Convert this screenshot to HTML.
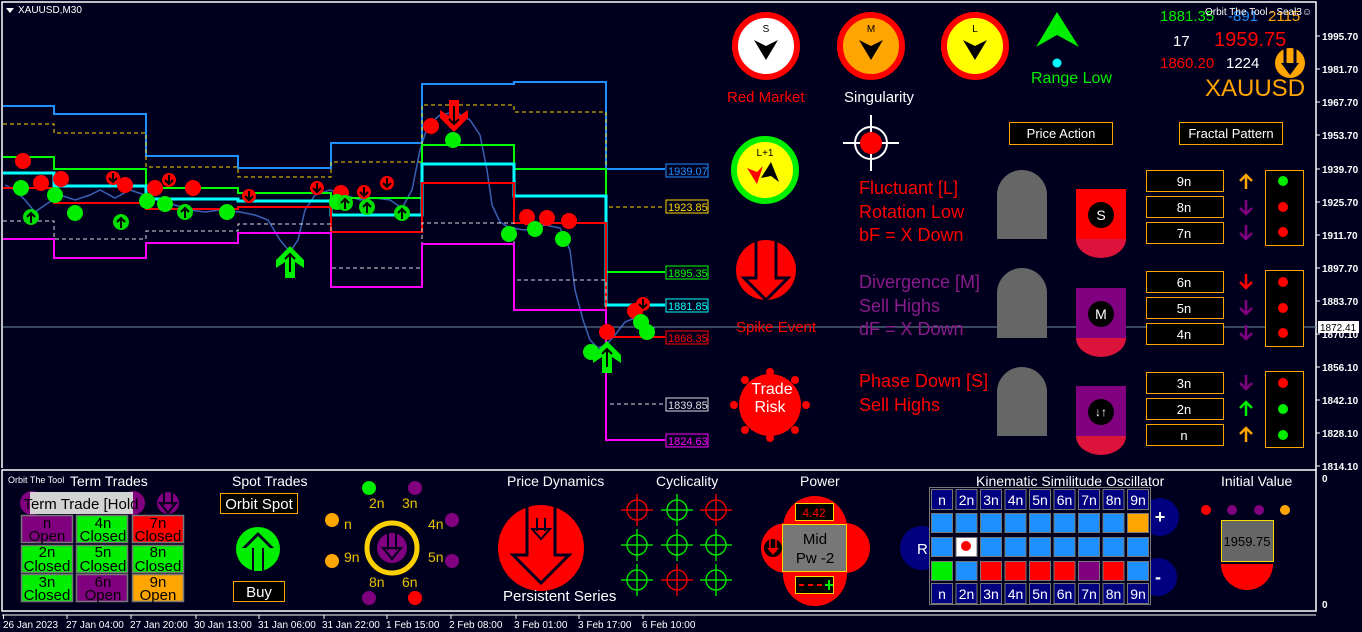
<!DOCTYPE html>
<html><head><meta charset="utf-8"><style>
html,body{margin:0;padding:0;background:#00001e;width:1362px;height:632px;overflow:hidden}
svg{display:block;font-family:"Liberation Sans",sans-serif}
</style></head><body>
<svg width="1362" height="632" viewBox="0 0 1362 632" xmlns="http://www.w3.org/2000/svg">
<rect width="1362" height="632" fill="#00001e"/>
<!-- chart border -->
<polyline points="2,468 2,2 1316,2 1316,470" fill="none" stroke="#fff" stroke-width="1.5"/>
<polygon points="6,8 14,8 10,13" fill="#fff"/>
<text x="18" y="13" font-size="10" fill="#fff">XAUUSD,M30</text>
<!-- price line -->
<line x1="3" y1="327" x2="1316" y2="327" fill="none" stroke="#6f8fa0" stroke-width="1"/>
<!-- candles approximation -->
<polyline points="5,185 15,190 25,200 35,212 45,205 60,195 75,200 90,195 100,190 115,198 130,190 145,195 160,200 175,205 190,210 205,212 220,210 240,212 255,215 268,220 280,240 290,252 298,240 305,210 315,195 330,190 345,195 360,200 375,198 390,200 402,208 412,190 420,150 428,125 440,115 455,112 470,120 480,135 487,170 492,205 500,222 510,228 525,230 545,225 560,228 570,250 575,290 583,320 590,340 598,348 606,345 615,335 625,322 635,318 645,325 655,328" fill="none" stroke="#4a78d8" stroke-width="1.5" opacity="0.8"/>
<!-- step lines -->
<polyline points="3,106 54,106 54,114 146,114 146,156 238,156 238,168 331,168 331,143 422,143 422,84 514,84 514,82 606,82 606,169 665,169" fill="none" stroke="#1e90ff" stroke-width="2"/>
<polyline points="3,124 54,124 54,133 146,133 146,167 238,167 238,177 331,177 331,162 422,162 422,105 514,105 514,112 606,112 606,207 665,207" fill="none" stroke="#ffd700" stroke-width="1" stroke-dasharray="4,3"/>
<polyline points="3,157 54,157 54,169 146,169 146,188 238,188 238,193 331,193 331,198 422,198 422,145 514,145 514,169 606,169 606,272 665,272" fill="none" stroke="#00ff00" stroke-width="2"/>
<polyline points="3,173 54,173 54,186 146,186 146,199 238,199 238,201 331,201 331,215 422,215 422,164 514,164 514,196 606,196 606,305 665,305" fill="none" stroke="#00ffff" stroke-width="3"/>
<polyline points="3,188 54,188 54,203 146,203 146,209 238,209 238,207 331,207 331,232 422,232 422,183 514,183 514,223 606,223 606,337 665,337" fill="none" stroke="#ff0000" stroke-width="2"/>
<polyline points="3,221 54,221 54,239 146,239 146,231 238,231 238,224 331,224 331,268 422,268 422,223 514,223 514,280 606,280 606,404 665,404" fill="none" stroke="#ddd" stroke-width="1" stroke-dasharray="4,3"/>
<polyline points="3,239 54,239 54,258 146,258 146,243 238,243 238,233 331,233 331,287 422,287 422,244 514,244 514,310 606,310 606,440 665,440" fill="none" stroke="#ff00ff" stroke-width="2"/>
<!-- level labels -->
<g font-size="11">
<rect x="666" y="164" width="42" height="13" fill="#00001e" stroke="#1e90ff"/><text x="668" y="175" fill="#1e90ff">1939.07</text>
<rect x="666" y="200" width="42" height="13" fill="#00001e" stroke="#ffd700"/><text x="668" y="211" fill="#ffd700">1923.85</text>
<rect x="666" y="266" width="42" height="13" fill="#00001e" stroke="#00ff00"/><text x="668" y="277" fill="#00ff00">1895.35</text>
<rect x="666" y="299" width="42" height="13" fill="#00001e" stroke="#00ffff"/><text x="668" y="310" fill="#00ffff">1881.85</text>
<rect x="666" y="331" width="42" height="13" fill="#00001e" stroke="#ff0000"/><text x="668" y="342" fill="#ff0000">1868.35</text>
<rect x="666" y="398" width="42" height="13" fill="#00001e" stroke="#ddd"/><text x="668" y="409" fill="#ddd">1839.85</text>
<rect x="666" y="434" width="42" height="13" fill="#00001e" stroke="#ff00ff"/><text x="668" y="445" fill="#ff00ff">1824.63</text>
</g>
<!-- red circles -->
<g fill="#ff0000">
<circle cx="23" cy="161" r="8"/><circle cx="41" cy="183" r="8"/><circle cx="61" cy="179" r="8"/><circle cx="125" cy="185" r="8"/><circle cx="155" cy="188" r="8"/><circle cx="193" cy="188" r="8"/><circle cx="341" cy="193" r="8"/><circle cx="431" cy="126" r="8"/><circle cx="527" cy="217" r="8"/><circle cx="547" cy="218" r="8"/><circle cx="569" cy="221" r="8"/><circle cx="607" cy="332" r="8"/><circle cx="635" cy="311" r="8"/>
</g>
<!-- green circles -->
<g fill="#00ee00">
<circle cx="21" cy="188" r="8"/><circle cx="55" cy="195" r="8"/><circle cx="75" cy="213" r="8"/><circle cx="147" cy="201" r="8"/><circle cx="165" cy="204" r="8"/><circle cx="227" cy="212" r="8"/><circle cx="337" cy="202" r="8"/><circle cx="453" cy="140" r="8"/><circle cx="509" cy="234" r="8"/><circle cx="535" cy="229" r="8"/><circle cx="563" cy="239" r="8"/><circle cx="591" cy="352" r="8"/><circle cx="641" cy="322" r="8"/><circle cx="647" cy="332" r="8"/>
</g>
<!-- small red down-arrow circles -->
<g>
<g transform="translate(113,178)"><circle r="7" fill="#ff0000"/><path d="M0,-5 V4 M-4,0 L0,4 L4,0" stroke="#000" stroke-width="2" fill="none"/></g>
<g transform="translate(169,180)"><circle r="7" fill="#ff0000"/><path d="M0,-5 V4 M-4,0 L0,4 L4,0" stroke="#000" stroke-width="2" fill="none"/></g>
<g transform="translate(249,196)"><circle r="7" fill="#ff0000"/><path d="M0,-5 V4 M-4,0 L0,4 L4,0" stroke="#000" stroke-width="2" fill="none"/></g>
<g transform="translate(317,188)"><circle r="7" fill="#ff0000"/><path d="M0,-5 V4 M-4,0 L0,4 L4,0" stroke="#000" stroke-width="2" fill="none"/></g>
<g transform="translate(364,192)"><circle r="7" fill="#ff0000"/><path d="M0,-5 V4 M-4,0 L0,4 L4,0" stroke="#000" stroke-width="2" fill="none"/></g>
<g transform="translate(387,183)"><circle r="7" fill="#ff0000"/><path d="M0,-5 V4 M-4,0 L0,4 L4,0" stroke="#000" stroke-width="2" fill="none"/></g>
<g transform="translate(643,304)"><circle r="7" fill="#ff0000"/><path d="M0,-5 V4 M-4,0 L0,4 L4,0" stroke="#000" stroke-width="2" fill="none"/></g>
</g>
<!-- small green up-arrow circles -->
<g>
<g transform="translate(31,217)"><circle r="8" fill="#00dd00"/><path d="M0,6 V-4 M-4,0 L0,-4 L4,0" stroke="#000" stroke-width="2" fill="none"/></g>
<g transform="translate(121,222)"><circle r="8" fill="#00dd00"/><path d="M0,6 V-4 M-4,0 L0,-4 L4,0" stroke="#000" stroke-width="2" fill="none"/></g>
<g transform="translate(185,212)"><circle r="8" fill="#00dd00"/><path d="M0,6 V-4 M-4,0 L0,-4 L4,0" stroke="#000" stroke-width="2" fill="none"/></g>
<g transform="translate(345,203)"><circle r="8" fill="#00dd00"/><path d="M0,6 V-4 M-4,0 L0,-4 L4,0" stroke="#000" stroke-width="2" fill="none"/></g>
<g transform="translate(367,207)"><circle r="8" fill="#00dd00"/><path d="M0,6 V-4 M-4,0 L0,-4 L4,0" stroke="#000" stroke-width="2" fill="none"/></g>
<g transform="translate(402,213)"><circle r="8" fill="#00dd00"/><path d="M0,6 V-4 M-4,0 L0,-4 L4,0" stroke="#000" stroke-width="2" fill="none"/></g>
</g>
<!-- big green arrows -->
<g transform="translate(290,262)"><polygon points="0,-16 14,-2 14,6 5,0 5,16 -5,16 -5,0 -14,6 -14,-2" fill="#00ee00"/><path d="M0,10 V-8 M-5,-3 L0,-8 L5,-3" stroke="#000" stroke-width="2" fill="none"/></g>
<g transform="translate(607,357)"><polygon points="0,-16 14,-2 14,6 5,0 5,16 -5,16 -5,0 -14,6 -14,-2" fill="#00ee00"/><path d="M0,10 V-8 M-5,-3 L0,-8 L5,-3" stroke="#000" stroke-width="2" fill="none"/></g>
<g transform="translate(454,116)"><polygon points="0,16 14,2 14,-6 5,0 5,-16 -5,-16 -5,0 -14,-6 -14,2" fill="#ff0000"/><path d="M0,-10 V8 M-5,3 L0,8 L5,3" stroke="#000" stroke-width="2" fill="none"/></g>

<!-- right axis -->
<g font-size="10" fill="#fff" font-weight="bold">
<g stroke="#fff"><line x1="1316" y1="36" x2="1320" y2="36"/><line x1="1316" y1="69" x2="1320" y2="69"/><line x1="1316" y1="102" x2="1320" y2="102"/><line x1="1316" y1="135" x2="1320" y2="135"/><line x1="1316" y1="169" x2="1320" y2="169"/><line x1="1316" y1="202" x2="1320" y2="202"/><line x1="1316" y1="235" x2="1320" y2="235"/><line x1="1316" y1="268" x2="1320" y2="268"/><line x1="1316" y1="301" x2="1320" y2="301"/><line x1="1316" y1="334" x2="1320" y2="334"/><line x1="1316" y1="367" x2="1320" y2="367"/><line x1="1316" y1="400" x2="1320" y2="400"/><line x1="1316" y1="433" x2="1320" y2="433"/><line x1="1316" y1="466" x2="1320" y2="466"/></g>
<text x="1322" y="40">1995.70</text><text x="1322" y="73">1981.70</text><text x="1322" y="106">1967.70</text><text x="1322" y="139">1953.70</text><text x="1322" y="173">1939.70</text><text x="1322" y="206">1925.70</text><text x="1322" y="239">1911.70</text><text x="1322" y="272">1897.70</text><text x="1322" y="305">1883.70</text><text x="1322" y="338">1870.10</text><text x="1322" y="371">1856.10</text><text x="1322" y="404">1842.10</text><text x="1322" y="437">1828.10</text><text x="1322" y="470">1814.10</text>
</g>
<rect x="1318" y="321" width="41" height="12" fill="#fff"/><text x="1320" y="331" font-size="10" fill="#000">1872.41</text>

<!-- S M L circles -->
<g transform="translate(766,46)"><circle r="31" fill="#fff" stroke="#ff0000" stroke-width="6"/><text y="-14" font-size="10" text-anchor="middle" fill="#000">S</text><polygon points="-12,-6 0,0 12,-6 0,14" fill="#000"/></g>
<g transform="translate(871,46)"><circle r="31" fill="#ffa500" stroke="#ff0000" stroke-width="6"/><text y="-14" font-size="10" text-anchor="middle" fill="#000">M</text><polygon points="-12,-6 0,0 12,-6 0,14" fill="#000"/></g>
<g transform="translate(975,46)"><circle r="31" fill="#ffff00" stroke="#ff0000" stroke-width="6"/><text y="-14" font-size="10" text-anchor="middle" fill="#000">L</text><polygon points="-12,-6 0,0 12,-6 0,14" fill="#000"/></g>
<text x="727" y="102" font-size="15" fill="#ff0000">Red Market</text>
<text x="844" y="102" font-size="15" fill="#fff">Singularity</text>
<polygon points="1057,12 1079,47 1057,35 1036,47" fill="#00ee00"/>
<circle cx="1057" cy="63" r="4.5" fill="#00ffff"/>
<text x="1031" y="83" font-size="16" fill="#00ee00">Range Low</text>
<!-- top right info -->
<text x="1160" y="21" font-size="15" fill="#00ee00">1881.35</text>
<text x="1228" y="21" font-size="15" fill="#1e90ff">-891</text>
<text x="1268" y="21" font-size="15" fill="#ffa500">2115</text>
<text x="1205" y="15" font-size="10" fill="#fff">Orbit The Tool - Seal3☺</text>
<text x="1173" y="46" font-size="15" fill="#fff">17</text>
<text x="1214" y="46" font-size="20" fill="#ff0000">1959.75</text>
<text x="1160" y="68" font-size="15" fill="#ff0000">1860.20</text>
<text x="1226" y="68" font-size="15" fill="#fff">1224</text>
<g transform="translate(1290,63)"><circle r="15" fill="#ffa500"/><path d="M-5,-15 V2 M5,-15 V2" stroke="#00001e" stroke-width="3"/><polygon points="-9,0 9,0 0,12" fill="#00001e"/></g>
<text x="1205" y="96" font-size="24" fill="#ffa500">XAUUSD</text>

<!-- L+1 -->
<g transform="translate(765,170)"><circle r="31" fill="#ffff00" stroke="#00ee00" stroke-width="6"/><text y="-14" font-size="10" text-anchor="middle" fill="#000">L+1</text><polygon points="-18,-2 -8,2 -2,-4 -8,14" fill="#ff0000"/><polygon points="-4,8 6,-8 14,12 6,6" fill="#000"/></g>
<!-- crosshair -->
<g transform="translate(871,143)" stroke="#fff" stroke-width="2" fill="none"><circle r="16"/><line x1="-28" y1="0" x2="28" y2="0"/><line x1="0" y1="-28" x2="0" y2="28"/><circle r="11" fill="#ff0000" stroke="none"/></g>
<!-- spike -->
<g transform="translate(766,270)"><circle r="30" fill="#ff0000"/><polyline points="-10,-30 -10,8 -22,8 0,30 22,8 10,8 10,-30" fill="none" stroke="#00001e" stroke-width="3"/></g>
<text x="736" y="332" font-size="15" fill="#ff0000">Spike Event</text>
<!-- trade risk -->
<g transform="translate(770,405)" fill="#ff0000"><circle r="31"/><circle cx="0" cy="-33" r="4"/><circle cx="0" cy="33" r="4"/><circle cx="-36" cy="0" r="4"/><circle cx="36" cy="0" r="4"/><circle cx="-25" cy="-25" r="4"/><circle cx="25" cy="-25" r="4"/><circle cx="-25" cy="25" r="4"/><circle cx="25" cy="25" r="4"/></g>
<text x="772" y="394" font-size="16" fill="#fff" text-anchor="middle">Trade</text>
<text x="770" y="412" font-size="16" fill="#fff" text-anchor="middle">Risk</text>
<!-- text blocks -->
<g font-size="18">
<text x="859" y="194" fill="#ff0000">Fluctuant [L]</text>
<text x="859" y="218" fill="#ff0000">Rotation Low</text>
<text x="859" y="241" fill="#ff0000">bF = X Down</text>
<text x="859" y="288" fill="#8b1a8b">Divergence [M]</text>
<text x="859" y="312" fill="#8b1a8b">Sell Highs</text>
<text x="859" y="335" fill="#8b1a8b">dF = X Down</text>
<text x="859" y="387" fill="#ff0000">Phase Down [S]</text>
<text x="859" y="411" fill="#ff0000">Sell Highs</text>
</g>
<!-- buttons -->
<rect x="1009.5" y="122.5" width="103" height="22" fill="#000" stroke="#ffa500"/><text x="1061" y="138" font-size="13" fill="#fff" text-anchor="middle">Price Action</text>
<rect x="1179.5" y="122.5" width="103" height="22" fill="#000" stroke="#ffa500"/><text x="1231" y="138" font-size="13" fill="#fff" text-anchor="middle">Fractal Pattern</text>
<!-- tombstones -->
<g fill="#666">
<path d="M997,239 V195 A25,25 0 0 1 1047,195 V239 Z"/>
<path d="M997,338 V293 A25,25 0 0 1 1047,293 V338 Z"/>
<path d="M997,436 V392 A25,25 0 0 1 1047,392 V436 Z"/>
</g>
<!-- badges -->
<g>
<rect x="1076" y="189" width="50" height="50" fill="#ff0000"/><path d="M1076,239 A25,19 0 0 0 1126,239 Z" fill="#dc143c"/><circle cx="1101" cy="215" r="13" fill="#000"/><text x="1101" y="220" font-size="14" fill="#fff" text-anchor="middle">S</text>
<rect x="1076" y="288" width="50" height="50" fill="#800080"/><path d="M1076,338 A25,19 0 0 0 1126,338 Z" fill="#dc143c"/><circle cx="1101" cy="314" r="13" fill="#000"/><text x="1101" y="319" font-size="14" fill="#fff" text-anchor="middle">M</text>
<rect x="1076" y="386" width="50" height="50" fill="#800080"/><path d="M1076,436 A25,19 0 0 0 1126,436 Z" fill="#dc143c"/><circle cx="1101" cy="412" r="13" fill="#000"/><text x="1101" y="416" font-size="12" fill="#fff" text-anchor="middle">↓↑</text>
</g>
<!-- n boxes -->
<g font-size="13" fill="#fff" text-anchor="middle">
<g fill="#000" stroke="#ffa500">
<rect x="1146.5" y="170.5" width="77" height="21"/><rect x="1146.5" y="196.5" width="77" height="21"/><rect x="1146.5" y="222.5" width="77" height="21"/>
<rect x="1146.5" y="271.5" width="77" height="21"/><rect x="1146.5" y="297.5" width="77" height="21"/><rect x="1146.5" y="323.5" width="77" height="21"/>
<rect x="1146.5" y="372.5" width="77" height="21"/><rect x="1146.5" y="398.5" width="77" height="21"/><rect x="1146.5" y="424.5" width="77" height="21"/>
</g>
<text x="1184" y="186">9n</text><text x="1184" y="212">8n</text><text x="1184" y="238">7n</text>
<text x="1184" y="287">6n</text><text x="1184" y="313">5n</text><text x="1184" y="339">4n</text>
<text x="1184" y="388">3n</text><text x="1184" y="414">2n</text><text x="1184" y="440">n</text>
</g>
<!-- small arrows -->
<g stroke-width="2.5" fill="none">
<path d="M1246,189 V175 M1240,181 L1246,175 L1252,181" stroke="#ffa500"/>
<path d="M1246,200 V214 M1240,208 L1246,214 L1252,208" stroke="#800080"/>
<path d="M1246,225 V239 M1240,233 L1246,239 L1252,233" stroke="#800080"/>
<path d="M1246,274 V288 M1240,282 L1246,288 L1252,282" stroke="#ff0000"/>
<path d="M1246,300 V314 M1240,308 L1246,314 L1252,308" stroke="#800080"/>
<path d="M1246,325 V339 M1240,333 L1246,339 L1252,333" stroke="#800080"/>
<path d="M1246,375 V389 M1240,383 L1246,389 L1252,383" stroke="#800080"/>
<path d="M1246,416 V402 M1240,408 L1246,402 L1252,408" stroke="#00ee00"/>
<path d="M1246,442 V428 M1240,434 L1246,428 L1252,434" stroke="#ffa500"/>
</g>
<!-- light boxes -->
<g fill="#000" stroke="#ffa500"><rect x="1265.5" y="170.5" width="38" height="75"/><rect x="1265.5" y="270.5" width="38" height="76"/><rect x="1265.5" y="371.5" width="38" height="76"/></g>
<g><circle cx="1283" cy="181" r="5" fill="#00ee00"/><circle cx="1283" cy="207" r="5" fill="#ff0000"/><circle cx="1283" cy="232" r="5" fill="#ff0000"/>
<circle cx="1283" cy="282" r="5" fill="#ff0000"/><circle cx="1283" cy="308" r="5" fill="#ff0000"/><circle cx="1283" cy="333" r="5" fill="#ff0000"/>
<circle cx="1283" cy="383" r="5" fill="#ff0000"/><circle cx="1283" cy="409" r="5" fill="#00ee00"/><circle cx="1283" cy="435" r="5" fill="#00ee00"/></g>

<!-- bottom panel -->
<rect x="2" y="470" width="1314" height="141" fill="#00001e" stroke="#fff" stroke-width="1.5"/>
<line x1="2" y1="615" x2="1316" y2="615" stroke="#fff"/>
<text x="1322" y="482" font-size="10" fill="#fff" font-weight="bold">0</text>
<text x="1322" y="608" font-size="10" fill="#fff" font-weight="bold">0</text>
<g stroke="#fff"><line x1="3.5" y1="615" x2="3.5" y2="619"/><line x1="67" y1="615" x2="67" y2="619"/><line x1="131" y1="615" x2="131" y2="619"/><line x1="196" y1="615" x2="196" y2="619"/><line x1="259" y1="615" x2="259" y2="619"/><line x1="324" y1="615" x2="324" y2="619"/><line x1="387" y1="615" x2="387" y2="619"/><line x1="451" y1="615" x2="451" y2="619"/><line x1="516" y1="615" x2="516" y2="619"/><line x1="579" y1="615" x2="579" y2="619"/><line x1="643" y1="615" x2="643" y2="619"/></g>
<g font-size="10" fill="#fff">
<text x="3" y="628">26 Jan 2023</text><text x="66" y="628">27 Jan 04:00</text><text x="130" y="628">27 Jan 20:00</text><text x="194" y="628">30 Jan 13:00</text><text x="258" y="628">31 Jan 06:00</text><text x="322" y="628">31 Jan 22:00</text><text x="386" y="628">1 Feb 15:00</text><text x="449" y="628">2 Feb 08:00</text><text x="514" y="628">3 Feb 01:00</text><text x="578" y="628">3 Feb 17:00</text><text x="642" y="628">6 Feb 10:00</text>
</g>
<!-- term trades -->
<text x="8" y="483" font-size="9" fill="#fff">Orbit The Tool</text>
<text x="70" y="486" font-size="14" fill="#fff">Term Trades</text>
<circle cx="32" cy="503" r="12" fill="#800080"/><circle cx="133" cy="503" r="12" fill="#800080"/>
<rect x="30" y="492" width="103" height="22" fill="#d3d3d3"/>
<text x="81" y="509" font-size="15" fill="#000" text-anchor="middle">Term Trade [Hold</text>
<g transform="translate(168,503)"><circle r="11" fill="#800080"/><path d="M-4,-11 V2 M4,-11 V2" stroke="#00001e" stroke-width="2"/><polygon points="-8,0 8,0 0,10" fill="none" stroke="#00001e" stroke-width="2"/></g>
<g stroke="#777" stroke-width="1.5">
<rect x="21.5" y="515.5" width="51" height="27" fill="#800080"/><rect x="76.5" y="515.5" width="51" height="27" fill="#00ee00"/><rect x="132.5" y="515.5" width="51" height="27" fill="#ff0000"/>
<rect x="21.5" y="545.5" width="51" height="27" fill="#00ee00"/><rect x="76.5" y="545.5" width="51" height="27" fill="#00ee00"/><rect x="132.5" y="545.5" width="51" height="27" fill="#00ee00"/>
<rect x="21.5" y="574.5" width="51" height="27" fill="#00ee00"/><rect x="76.5" y="574.5" width="51" height="27" fill="#800080"/><rect x="132.5" y="574.5" width="51" height="27" fill="#ffa500"/>
</g>
<g font-size="15" fill="#000" text-anchor="middle">
<text x="47" y="528">n</text><text x="47" y="541">Open</text><text x="103" y="528">4n</text><text x="103" y="541">Closed</text><text x="158" y="528">7n</text><text x="158" y="541">Closed</text>
<text x="47" y="557">2n</text><text x="47" y="571">Closed</text><text x="103" y="557">5n</text><text x="103" y="571">Closed</text><text x="158" y="557">8n</text><text x="158" y="571">Closed</text>
<text x="47" y="587">3n</text><text x="47" y="600">Closed</text><text x="103" y="587">6n</text><text x="103" y="600">Open</text><text x="158" y="587">9n</text><text x="158" y="600">Open</text>
</g>
<!-- spot trades -->
<text x="232" y="486" font-size="14" fill="#fff">Spot Trades</text>
<rect x="220.5" y="493.5" width="77" height="20" fill="#000" stroke="#ffa500"/><text x="259" y="509" font-size="15" fill="#fff" text-anchor="middle">Orbit Spot</text>
<g transform="translate(258,549)"><circle r="22" fill="#00ee00"/><polygon points="0,-17 -16,-1 -6,-1 -6,22 6,22 6,-1 16,-1" fill="#00001e"/><polygon points="0,-13 -12,-1 -4,-1 -4,22 4,22 4,-1 12,-1" fill="#00ee00"/></g>
<rect x="233.5" y="581.5" width="51" height="20" fill="#000" stroke="#ffa500"/><text x="259" y="597" font-size="15" fill="#fff" text-anchor="middle">Buy</text>
<!-- orbit -->
<circle cx="392" cy="548" r="25" fill="none" stroke="#ffd000" stroke-width="5"/>
<g transform="translate(392,548)"><circle r="15" fill="#800080"/><path d="M-4,-15 V2 M4,-15 V2" stroke="#00001e" stroke-width="2"/><polygon points="-9,0 9,0 0,11" fill="none" stroke="#00001e" stroke-width="2"/></g>
<circle cx="369" cy="488" r="7" fill="#00ee00"/><circle cx="415" cy="488" r="7" fill="#800080"/><circle cx="332" cy="520" r="7" fill="#ffa500"/><circle cx="452" cy="520" r="7" fill="#800080"/><circle cx="332" cy="561" r="7" fill="#ffa500"/><circle cx="452" cy="561" r="7" fill="#800080"/><circle cx="369" cy="598" r="7" fill="#800080"/><circle cx="415" cy="598" r="7" fill="#ff0000"/>
<g font-size="14" fill="#e8c000">
<text x="369" y="508">2n</text><text x="402" y="508">3n</text><text x="344" y="529">n</text><text x="428" y="529">4n</text><text x="344" y="562">9n</text><text x="428" y="562">5n</text><text x="369" y="587">8n</text><text x="402" y="587">6n</text>
</g>
<!-- price dynamics -->
<text x="507" y="486" font-size="14" fill="#fff">Price Dynamics</text>
<g transform="translate(541,548)"><circle r="43" fill="#ff0000"/><polyline points="-14,-43 -14,7 -28,7 0,35 28,7 14,7 14,-43" fill="none" stroke="#00001e" stroke-width="3"/><g transform="translate(0,-21)"><path d="M-4,-9 V4 M4,-9 V4" stroke="#00001e" stroke-width="2"/><polygon points="-9,2 9,2 0,12" fill="none" stroke="#00001e" stroke-width="2"/></g></g>
<text x="503" y="601" font-size="15" fill="#fff">Persistent Series</text>
<!-- cyclicality -->
<text x="656" y="486" font-size="14" fill="#fff">Cyclicality</text>
<g fill="none" stroke-width="1.5">
<g stroke="#e00000" transform="translate(637,510)"><circle r="10"/><path d="M-16,0 H16 M0,-16 V16"/></g>
<g stroke="#00dd00" transform="translate(677,510)"><circle r="10"/><path d="M-16,0 H16 M0,-16 V16"/></g>
<g stroke="#e00000" transform="translate(716,510)"><circle r="10"/><path d="M-16,0 H16 M0,-16 V16"/></g>
<g stroke="#00dd00" transform="translate(637,545)"><circle r="10"/><path d="M-16,0 H16 M0,-16 V16"/></g>
<g stroke="#00dd00" transform="translate(677,545)"><circle r="10"/><path d="M-16,0 H16 M0,-16 V16"/></g>
<g stroke="#00dd00" transform="translate(716,545)"><circle r="10"/><path d="M-16,0 H16 M0,-16 V16"/></g>
<g stroke="#00dd00" transform="translate(637,580)"><circle r="10"/><path d="M-16,0 H16 M0,-16 V16"/></g>
<g stroke="#e00000" transform="translate(677,580)"><circle r="10"/><path d="M-16,0 H16 M0,-16 V16"/></g>
<g stroke="#00dd00" transform="translate(716,580)"><circle r="10"/><path d="M-16,0 H16 M0,-16 V16"/></g>
</g>
<!-- power -->
<text x="800" y="486" font-size="14" fill="#fff">Power</text>
<g fill="#ff0000">
<path d="M783,528 A32,32 0 0 1 847,528 V574 A32,32 0 0 1 783,574 Z"/>
<circle cx="786" cy="548" r="25"/><circle cx="845" cy="548" r="25"/>
</g>
<rect x="782.5" y="524.5" width="64" height="47" fill="#777" stroke="#ffd700"/>
<text x="815" y="544" font-size="15" fill="#000" text-anchor="middle">Mid</text>
<text x="815" y="563" font-size="15" fill="#000" text-anchor="middle">Pw -2</text>
<rect x="795.5" y="503.5" width="38" height="17" fill="#000" stroke="#ffd700"/><text x="814" y="517" font-size="12" fill="#ff0000" text-anchor="middle">4.42</text>
<rect x="795.5" y="576.5" width="38" height="17" fill="#000" stroke="#ffd700"/>
<path d="M799,585 H804 M808,585 H813 M817,585 H822 M825,585 H833 M829,580 V590" stroke="#ff0000" stroke-width="2"/>
<path d="M825,585 H833 M829,580 V590" stroke="#00ee00" stroke-width="2"/>
<g transform="translate(773,548)"><circle r="9" fill="#000"/><path d="M-3,-9 V1 M3,-9 V1" stroke="#ff0000" stroke-width="1.5"/><polygon points="-6,0 6,0 0,7" fill="#ff0000"/></g>
<!-- kinematic -->
<text x="976" y="486" font-size="14" fill="#fff">Kinematic Similitude Oscillator</text>
<circle cx="922" cy="548" r="22" fill="#000080"/><text x="917" y="554" font-size="15" fill="#fff">R</text>
<circle cx="1160" cy="517" r="19" fill="#000080"/><text x="1160" y="523" font-size="18" fill="#fff" text-anchor="middle" font-weight="bold">+</text>
<circle cx="1158" cy="577" r="19" fill="#000080"/><text x="1158" y="583" font-size="18" fill="#fff" text-anchor="middle" font-weight="bold">-</text>
<rect x="929.5" y="487.5" width="221" height="117" fill="#00001e" stroke="#777"/>
<g stroke="#777" fill="#000080">
<rect x="931.5" y="489.5" width="21" height="20"/><rect x="956" y="489.5" width="21" height="20"/><rect x="980.5" y="489.5" width="21" height="20"/><rect x="1005" y="489.5" width="21" height="20"/><rect x="1029.5" y="489.5" width="21" height="20"/><rect x="1054" y="489.5" width="21" height="20"/><rect x="1078.5" y="489.5" width="21" height="20"/><rect x="1103" y="489.5" width="21" height="20"/><rect x="1127.5" y="489.5" width="21" height="20"/>
<rect x="931.5" y="583.5" width="21" height="20"/><rect x="956" y="583.5" width="21" height="20"/><rect x="980.5" y="583.5" width="21" height="20"/><rect x="1005" y="583.5" width="21" height="20"/><rect x="1029.5" y="583.5" width="21" height="20"/><rect x="1054" y="583.5" width="21" height="20"/><rect x="1078.5" y="583.5" width="21" height="20"/><rect x="1103" y="583.5" width="21" height="20"/><rect x="1127.5" y="583.5" width="21" height="20"/>
</g>
<g stroke="#777">
<rect x="931.5" y="513.5" width="21" height="19" fill="#1e90ff"/><rect x="956" y="513.5" width="21" height="19" fill="#1e90ff"/><rect x="980.5" y="513.5" width="21" height="19" fill="#1e90ff"/><rect x="1005" y="513.5" width="21" height="19" fill="#1e90ff"/><rect x="1029.5" y="513.5" width="21" height="19" fill="#1e90ff"/><rect x="1054" y="513.5" width="21" height="19" fill="#1e90ff"/><rect x="1078.5" y="513.5" width="21" height="19" fill="#1e90ff"/><rect x="1103" y="513.5" width="21" height="19" fill="#1e90ff"/><rect x="1127.5" y="513.5" width="21" height="19" fill="#ffa500"/>
<rect x="931.5" y="537.5" width="21" height="19" fill="#1e90ff"/><rect x="956" y="537.5" width="21" height="19" fill="#fff"/><rect x="980.5" y="537.5" width="21" height="19" fill="#1e90ff"/><rect x="1005" y="537.5" width="21" height="19" fill="#1e90ff"/><rect x="1029.5" y="537.5" width="21" height="19" fill="#1e90ff"/><rect x="1054" y="537.5" width="21" height="19" fill="#1e90ff"/><rect x="1078.5" y="537.5" width="21" height="19" fill="#1e90ff"/><rect x="1103" y="537.5" width="21" height="19" fill="#1e90ff"/><rect x="1127.5" y="537.5" width="21" height="19" fill="#1e90ff"/>
<rect x="931.5" y="561.5" width="21" height="19" fill="#00ee00"/><rect x="956" y="561.5" width="21" height="19" fill="#1e90ff"/><rect x="980.5" y="561.5" width="21" height="19" fill="#ff0000"/><rect x="1005" y="561.5" width="21" height="19" fill="#ff0000"/><rect x="1029.5" y="561.5" width="21" height="19" fill="#ff0000"/><rect x="1054" y="561.5" width="21" height="19" fill="#ff0000"/><rect x="1078.5" y="561.5" width="21" height="19" fill="#800080"/><rect x="1103" y="561.5" width="21" height="19" fill="#ff0000"/><rect x="1127.5" y="561.5" width="21" height="19" fill="#1e90ff"/>
</g>
<circle cx="966" cy="546" r="5" fill="#ff0000"/>
<g font-size="14" fill="#fff" text-anchor="middle">
<text x="942" y="505">n</text><text x="966.5" y="505">2n</text><text x="991" y="505">3n</text><text x="1015.5" y="505">4n</text><text x="1040" y="505">5n</text><text x="1064.5" y="505">6n</text><text x="1089" y="505">7n</text><text x="1113.5" y="505">8n</text><text x="1138" y="505">9n</text>
<text x="942" y="599">n</text><text x="966.5" y="599">2n</text><text x="991" y="599">3n</text><text x="1015.5" y="599">4n</text><text x="1040" y="599">5n</text><text x="1064.5" y="599">6n</text><text x="1089" y="599">7n</text><text x="1113.5" y="599">8n</text><text x="1138" y="599">9n</text>
</g>
<!-- initial value -->
<text x="1221" y="486" font-size="14" fill="#fff">Initial Value</text>
<circle cx="1206" cy="510" r="5" fill="#ff0000"/><circle cx="1232" cy="510" r="5" fill="#800080"/><circle cx="1259" cy="510" r="5" fill="#800080"/><circle cx="1285" cy="510" r="5" fill="#ffa500"/>
<path d="M1221,564 A26,26 0 0 0 1273,564 Z" fill="#ff0000"/>
<rect x="1221.5" y="520.5" width="52" height="41" fill="#666" stroke="#ffd700"/>
<text x="1247" y="546" font-size="13" fill="#000" text-anchor="middle">1959.75</text>
</svg>
</body></html>
